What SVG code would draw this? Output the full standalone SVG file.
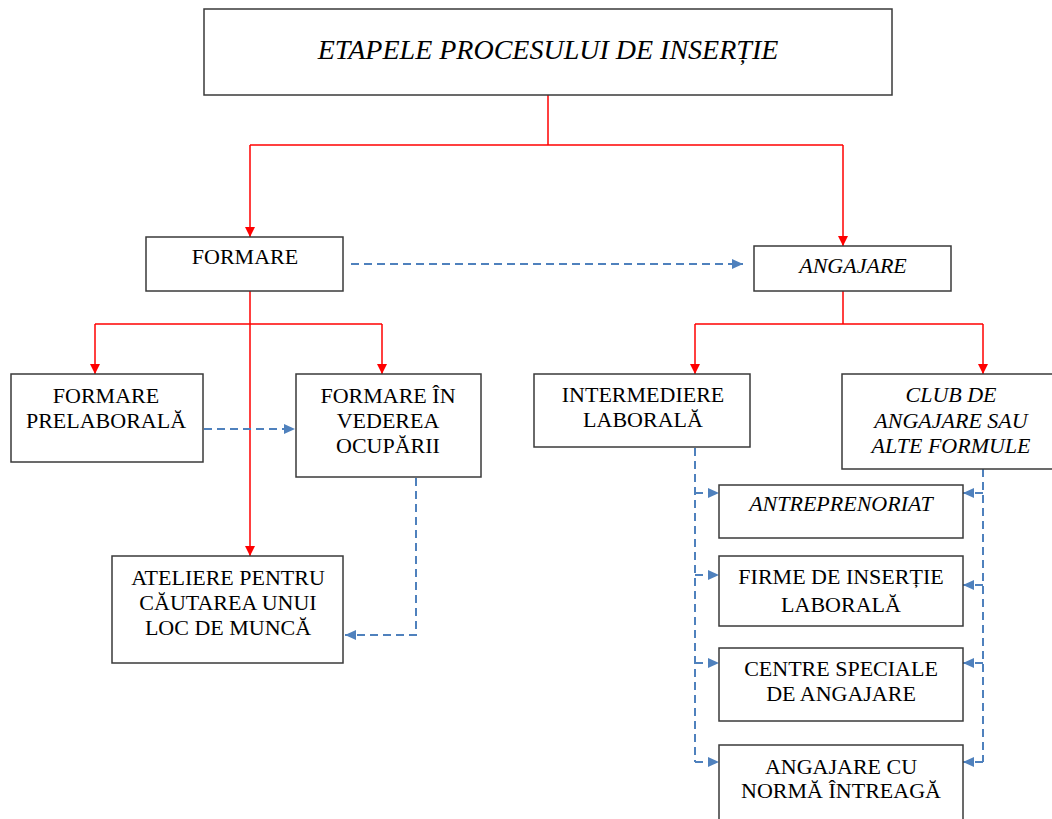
<svg xmlns="http://www.w3.org/2000/svg" width="1052" height="819" viewBox="0 0 1052 819">
<style>
.box{fill:#fff;stroke:#3a3a3a;stroke-width:1.5}
.t{font-family:"Liberation Serif","Times New Roman",serif;font-size:22px;fill:#000;text-anchor:middle}
.i{font-style:italic}
.red{fill:none;stroke:#ff0000;stroke-width:1.5}
.blue{fill:none;stroke:#4f81bd;stroke-width:2;stroke-dasharray:8 5}
</style>
<defs>
<marker id="ar" markerWidth="10" markerHeight="10" refX="10" refY="5" orient="auto" markerUnits="userSpaceOnUse"><path d="M0,0 L10,5 L0,10 Z" fill="#ff0000"/></marker>
<marker id="ab" markerWidth="11" markerHeight="10" refX="11" refY="5" orient="auto" markerUnits="userSpaceOnUse"><path d="M0,0 L11,5 L0,10 Z" fill="#4f81bd"/></marker>
</defs>
<rect width="1052" height="819" fill="#fff"/>
<g id="connectors">
<path class="red" d="M548,95 V145"/>
<path class="red" d="M250,145 H843"/>
<path class="red" d="M250,145 V237" marker-end="url(#ar)"/>
<path class="red" d="M843,145 V246" marker-end="url(#ar)"/>
<path class="red" d="M250,291 V556" marker-end="url(#ar)"/>
<path class="red" d="M95,324 H382"/>
<path class="red" d="M95,324 V374" marker-end="url(#ar)"/>
<path class="red" d="M382,324 V374" marker-end="url(#ar)"/>
<path class="red" d="M843,291 V324"/>
<path class="red" d="M695,324 H983"/>
<path class="red" d="M695,324 V374" marker-end="url(#ar)"/>
<path class="red" d="M983,324 V374" marker-end="url(#ar)"/>
<path class="blue" d="M351,264 H743" marker-end="url(#ab)"/>
<path class="blue" d="M204,429 H295" marker-end="url(#ab)"/>
<path class="blue" d="M416,478 V635 H345" marker-end="url(#ab)"/>
<path class="blue" d="M695,448 V762"/>
<path class="blue" d="M695,493 H719" marker-end="url(#ab)"/>
<path class="blue" d="M695,575 H719" marker-end="url(#ab)"/>
<path class="blue" d="M695,663 H719" marker-end="url(#ab)"/>
<path class="blue" d="M695,762 H719" marker-end="url(#ab)"/>
<path class="blue" d="M983,469 V762"/>
<path class="blue" d="M983,493 H963" marker-end="url(#ab)"/>
<path class="blue" d="M983,585 H963" marker-end="url(#ab)"/>
<path class="blue" d="M983,663 H963" marker-end="url(#ab)"/>
<path class="blue" d="M983,762 H963" marker-end="url(#ab)"/>
</g>
<g id="title"><rect class="box" x="204" y="9" width="688" height="86"/><text class="t i" x="548" y="59" style="font-size:28px">ETAPELE PROCESULUI DE INSERȚIE</text></g>
<g id="formare"><rect class="box" x="146" y="237" width="197" height="54"/><text class="t" x="245" y="264">FORMARE</text></g>
<g id="angajare"><rect class="box" x="754" y="246" width="197" height="45"/><text class="t i" x="853" y="273">ANGAJARE</text></g>
<g id="prelaborala"><rect class="box" x="11" y="374" width="192" height="88"/><text class="t" x="106" y="403">FORMARE</text><text class="t" x="106" y="428">PRELABORALĂ</text></g>
<g id="vederea"><rect class="box" x="296" y="374" width="185" height="103"/><text class="t" x="388" y="403">FORMARE ÎN</text><text class="t" x="388" y="428">VEDEREA</text><text class="t" x="388" y="453">OCUPĂRII</text></g>
<g id="ateliere"><rect class="box" x="112" y="556" width="231" height="107"/><text class="t" x="228" y="585">ATELIERE PENTRU</text><text class="t" x="228" y="610">CĂUTAREA UNUI</text><text class="t" x="228" y="635">LOC DE MUNCĂ</text></g>
<g id="intermediere"><rect class="box" x="534" y="374" width="216" height="73"/><text class="t" x="643" y="402">INTERMEDIERE</text><text class="t" x="643" y="427">LABORALĂ</text></g>
<g id="club"><rect class="box" x="842" y="374" width="215" height="95"/><text class="t i" x="951" y="402">CLUB DE</text><text class="t i" x="951" y="428">ANGAJARE SAU</text><text class="t i" x="951" y="453">ALTE FORMULE</text></g>
<g id="antreprenoriat"><rect class="box" x="719" y="485" width="244" height="53"/><text class="t i" x="841" y="511">ANTREPRENORIAT</text></g>
<g id="firme"><rect class="box" x="719" y="556" width="244" height="70"/><text class="t" x="841" y="584">FIRME DE INSERȚIE</text><text class="t" x="841" y="612">LABORALĂ</text></g>
<g id="centre"><rect class="box" x="719" y="648" width="244" height="73"/><text class="t" x="841" y="676">CENTRE SPECIALE</text><text class="t" x="841" y="701">DE ANGAJARE</text></g>
<g id="norma"><rect class="box" x="719" y="745" width="244" height="90"/><text class="t" x="841" y="774">ANGAJARE CU</text><text class="t" x="841" y="798">NORMĂ ÎNTREAGĂ</text></g>
</svg>
